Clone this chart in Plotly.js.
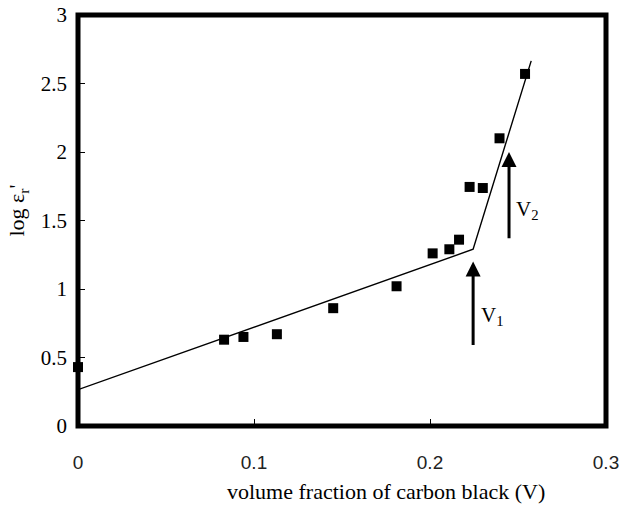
<!DOCTYPE html>
<html>
<head>
<meta charset="utf-8">
<script src="https://cdn.plot.ly/plotly-3.0.1.min.js"></script>
<style>html,body{margin:0;padding:0;background:#fff;}#chart{width:622px;height:506px;}</style>
</head>
<body>
<div id="chart"></div>
<script>
// Measured data points
const volumeFraction = [0.0, 0.083, 0.094, 0.113, 0.145, 0.181, 0.2015, 0.211, 0.2165, 0.2225, 0.230, 0.2395, 0.254];
const logPermittivity = [0.43, 0.63, 0.65, 0.67, 0.86, 1.02, 1.26, 1.29, 1.36, 1.745, 1.737, 2.10, 2.57];
// Fitted two-segment line
const fitX = [0.0, 0.2245, 0.2575];
const fitY = [0.265, 1.29, 2.665];
// Axis ticks
const xTicks = [0, 0.1, 0.2, 0.3];
const xTickLabels = ['0', '0.1', '0.2', '0.3'];
const yTicks = [0, 0.5, 1, 1.5, 2, 2.5, 3];
const yTickLabels = ['0', '0.5', '1', '1.5', '2', '2.5', '3'];

const serif = 'Liberation Serif, Times New Roman, serif';
const sans = 'Liberation Sans, Arial, sans-serif';

const traces = [
  {x: fitX, y: fitY, mode: 'lines', type: 'scatter', line: {color: '#000', width: 1.4}, hoverinfo: 'skip'},
  {x: volumeFraction, y: logPermittivity, mode: 'markers', type: 'scatter',
   marker: {symbol: 'square', size: 10, color: '#000'}, cliponaxis: false}
];

const layout = {
  width: 622, height: 506,
  margin: {l: 78, r: 16, t: 15, b: 80},
  paper_bgcolor: '#fff', plot_bgcolor: '#fff',
  showlegend: false,
  xaxis: {
    range: [0, 0.3], tickvals: xTicks, ticktext: xTickLabels,
    ticks: 'inside', ticklen: 7, tickwidth: 1, tickcolor: '#000',
    showgrid: false, zeroline: false, showline: false,
    tickfont: {family: sans, size: 19, color: '#222'},
    ticklabelstandoff: 23,
    automargin: false, fixedrange: true
  },
  yaxis: {
    range: [0, 3], tickvals: yTicks, ticktext: yTickLabels,
    ticks: 'inside', ticklen: 7, tickwidth: 1, tickcolor: '#000',
    showgrid: false, zeroline: false, showline: false,
    tickfont: {family: serif, size: 21, color: '#000'},
    ticklabelstandoff: 10,
    automargin: false, fixedrange: true
  },
  shapes: [
    {type: 'rect', xref: 'paper', yref: 'paper', x0: 0, x1: 1, y0: 0, y1: 1,
     line: {color: '#000', width: 5}, fillcolor: 'rgba(0,0,0,0)', layer: 'above'}
  ],
  annotations: [
    {x: 0.583, y: -0.16, xref: 'paper', yref: 'paper', xanchor: 'center', yanchor: 'middle', showarrow: false,
     text: 'volume fraction of carbon black (V)', font: {family: serif, size: 22, color: '#000'}},
    {x: -0.113, y: 0.525, xref: 'paper', yref: 'paper', xanchor: 'center', yanchor: 'middle', showarrow: false, textangle: -90,
     text: "log ε<sub>r</sub>'", font: {family: serif, size: 22, color: '#000'}},
    {x: 0.2245, y: 1.2, ax: 0.2245, ay: 0.58, xref: 'x', yref: 'y', axref: 'x', ayref: 'y',
     showarrow: true, arrowhead: 2, arrowsize: 1, arrowwidth: 3, arrowcolor: '#000', text: ''},
    {x: 0.2449, y: 2.0, ax: 0.2449, ay: 1.36, xref: 'x', yref: 'y', axref: 'x', ayref: 'y',
     showarrow: true, arrowhead: 2, arrowsize: 1, arrowwidth: 3, arrowcolor: '#000', text: ''},
    {x: 0.2355, y: 0.8, xref: 'x', yref: 'y', showarrow: false, text: 'V<sub>1</sub>',
     font: {family: serif, size: 21, color: '#000'}},
    {x: 0.2555, y: 1.58, xref: 'x', yref: 'y', showarrow: false, text: 'V<sub>2</sub>',
     font: {family: serif, size: 21, color: '#000'}}
  ]
};

Plotly.newPlot('chart', traces, layout, {displayModeBar: false, staticPlot: true});
</script>
</body>
</html>
